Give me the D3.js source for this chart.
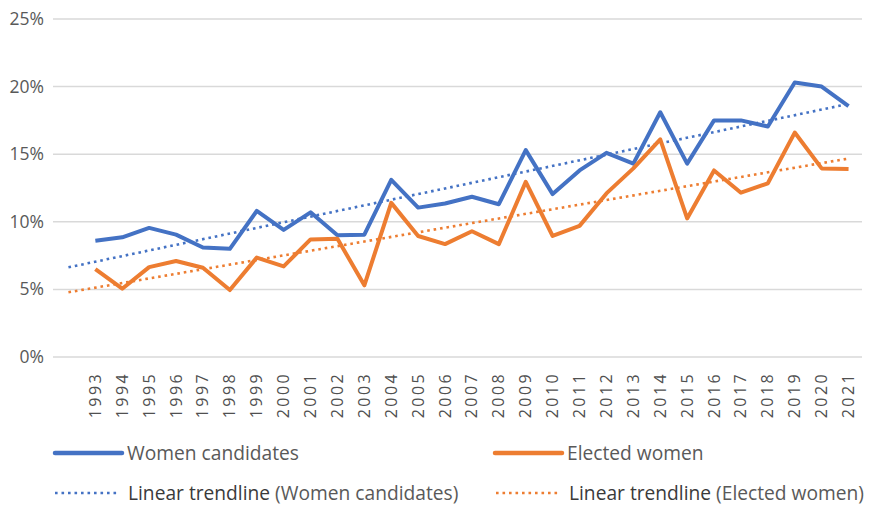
<!DOCTYPE html>
<html>
<head>
<meta charset="utf-8">
<script src="https://cdn.jsdelivr.net/npm/d3@7"></script>
<style>
  body { margin: 0; background: #fff; }
  text { font-family: "Open Sans", sans-serif; }
</style>
</head>
<body>
<svg id="chart"></svg>
<script>
const width = 870
const height = 505

const years = d3.range(1993, 2022)
const candidates = [8.6, 8.85, 9.55, 9.05, 8.1, 8.0, 10.8, 9.4, 10.7, 9.0, 9.05, 13.1, 11.05, 11.35, 11.85, 11.3,
  15.3, 12.05, 13.8, 15.1, 14.3, 18.1, 14.3, 17.5, 17.5, 17.05, 20.3, 20.0, 18.55]
const elected = [6.5, 5.05, 6.65, 7.1, 6.6, 4.95, 7.35, 6.7, 8.7, 8.75, 5.3, 11.4, 8.95, 8.35, 9.3, 8.35,
  12.95, 8.95, 9.7, 12.1, 13.95, 16.1, 10.25, 13.8, 12.15, 12.85, 16.6, 13.95, 13.9]
const yTicks = [0, 5, 10, 15, 20, 25]

const blue = '#4472c4'
const orange = '#ed7d31'

const svg = d3.select('#chart').attr('width', width).attr('height', height)

// category axis with one empty slot before 1993 (trendline forecast backward 1 period)
const x = d3.scaleLinear().domain([1991.5, 2021.5]).range([55, 862])
const y = d3.scaleLinear().domain([0, 25]).range([357, 19])

//gridlines
svg.append('g').selectAll('line').data(yTicks).enter().append('line')
  .attr('x1', 53).attr('x2', 862)
  .attr('y1', d => y(d)).attr('y2', d => y(d))
  .attr('stroke', '#d9d9d9').attr('stroke-width', 1.5)

//y labels
svg.append('g').selectAll('text').data(yTicks).enter().append('text')
  .attr('x', 44).attr('y', d => y(d) + 6)
  .attr('text-anchor', 'end')
  .attr('font-size', 17.5).attr('fill', '#595959')
  .text(d => d + '%')

//x labels
svg.append('g').selectAll('text').data(years).enter().append('text')
  .attr('transform', d => `translate(${x(d) + 5.5}, 372) rotate(-90)`)
  .attr('text-anchor', 'end')
  .attr('font-size', 16).attr('letter-spacing', 2.4).attr('fill', '#505050')
  .text(d => d)

function trend(values) {
  const mx = d3.mean(years), my = d3.mean(values)
  let sxy = 0, sxx = 0
  years.forEach((yr, i) => { sxy += (yr - mx) * (values[i] - my); sxx += (yr - mx) * (yr - mx) })
  const b = sxy / sxx
  const a = my - b * mx
  return [1992, 2021].map(yr => ({year: yr, v: a + b * yr}))
}

const line = d3.line().x(d => x(d.year)).y(d => y(d.v))

const series = [
  {name: 'Women candidates', values: candidates, color: blue},
  {name: 'Elected women', values: elected, color: orange}
]

//trendlines
for (const s of series) {
  svg.append('path')
    .datum(trend(s.values))
    .attr('d', line)
    .attr('fill', 'none')
    .attr('stroke', s.color)
    .attr('stroke-width', 2.6)
    .attr('stroke-dasharray', '2.6 3.9')
}

//data lines
for (const s of series) {
  svg.append('path')
    .datum(s.values.map((v, i) => ({year: years[i], v: v})))
    .attr('d', line)
    .attr('fill', 'none')
    .attr('stroke', s.color)
    .attr('stroke-width', 4)
    .attr('stroke-linejoin', 'round')
}

//legend
const legend = [
  {x: 55, y: 453, color: blue, dotted: false, bold: '', label: 'Women candidates'},
  {x: 495, y: 453, color: orange, dotted: false, bold: '', label: 'Elected women'},
  {x: 55, y: 493, color: blue, dotted: true, bold: 'Linear trendline ', label: '(Women candidates)'},
  {x: 496, y: 493, color: orange, dotted: true, bold: 'Linear trendline ', label: '(Elected women)'}
]

const lg = svg.append('g').selectAll('g').data(legend).enter().append('g')
  .attr('transform', d => `translate(${d.x}, ${d.y})`)

lg.append('line')
  .attr('x1', 0).attr('x2', d => d.dotted ? 62 : 67)
  .attr('y1', 0).attr('y2', 0)
  .attr('stroke', d => d.color)
  .attr('stroke-width', d => d.dotted ? 2.6 : 4.5)
  .attr('stroke-linecap', d => d.dotted ? 'butt' : 'round')
  .attr('stroke-dasharray', d => d.dotted ? '2.6 3.9' : null)

const lt = lg.append('text')
  .attr('x', d => d.dotted ? 73 : 72)
  .attr('y', 6.5)
  .attr('font-size', 19.2)
  .attr('fill', '#595959')
lt.append('tspan').attr('fill', '#3a3a3a').text(d => d.bold)
lt.append('tspan').text(d => d.label)
</script>
</body>
</html>
